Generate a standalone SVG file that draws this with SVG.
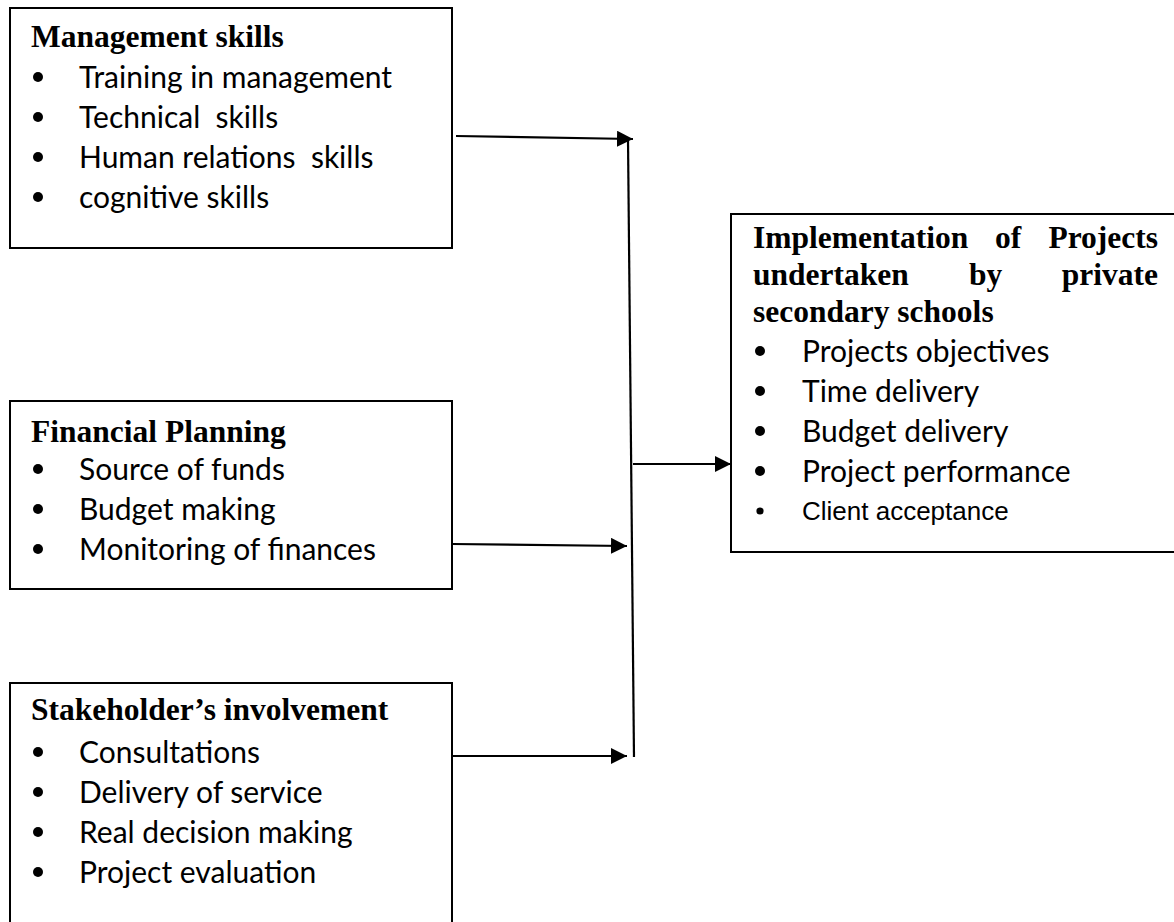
<svg xmlns="http://www.w3.org/2000/svg" width="1174" height="922" viewBox="0 0 1174 922">
  <style>
    .box { fill: #ffffff; stroke: #000000; stroke-width: 2; }
    .title { font-family: "Liberation Serif", "Times New Roman", serif; font-weight: bold; font-size: 31.5px; fill: #000000; }
    .item { font-family: Lato, "Liberation Sans", sans-serif; font-size: 30px; fill: #000000; }
    .item2 { font-family: "Liberation Sans", Arial, sans-serif; font-size: 26px; fill: #000000; }
    .wire { fill: none; stroke: #000000; stroke-width: 2.2; }
  </style>
  <defs>
    <marker id="head" markerUnits="userSpaceOnUse" markerWidth="17" markerHeight="17" refX="16" refY="8" orient="auto">
      <path d="M0,0 L16,8 L0,16 Z" fill="#000000"/>
    </marker>
    <!-- list bullets -->
    <circle id="dot" r="5" fill="#000000"/>
    <circle id="dot-small" r="3.6" fill="#000000"/>
  </defs>
  <rect width="1174" height="922" fill="#ffffff"/>

  <!-- Management skills -->
  <g id="management">
    <rect class="box" x="10" y="8" width="442" height="240"/>
    <text class="title" x="31" y="47">Management skills</text>
    <use href="#dot" x="38" y="77"/>
    <text class="item" x="79" y="88">Training in management</text>
    <use href="#dot" x="38" y="117"/>
    <text class="item" x="79" y="128" xml:space="preserve">Technical  skills</text>
    <use href="#dot" x="38" y="157"/>
    <text class="item" x="79" y="168" xml:space="preserve">Human relations  skills</text>
    <use href="#dot" x="38" y="197"/>
    <text class="item" x="79" y="208">cognitive skills</text>
  </g>

  <!-- Financial Planning -->
  <g id="financial">
    <rect class="box" x="10" y="401" width="442" height="188"/>
    <text class="title" x="31" y="442">Financial Planning</text>
    <use href="#dot" x="38" y="469"/>
    <text class="item" x="79" y="480">Source of funds</text>
    <use href="#dot" x="38" y="509"/>
    <text class="item" x="79" y="520">Budget making</text>
    <use href="#dot" x="38" y="549"/>
    <text class="item" x="79" y="560">Monitoring of finances</text>
  </g>

  <!-- Stakeholder's involvement -->
  <g id="stakeholder">
    <rect class="box" x="10" y="683" width="442" height="250"/>
    <text class="title" x="31" y="720">Stakeholder’s involvement</text>
    <use href="#dot" x="38" y="752"/>
    <text class="item" x="79" y="763">Consultations</text>
    <use href="#dot" x="38" y="792"/>
    <text class="item" x="79" y="803">Delivery of service</text>
    <use href="#dot" x="38" y="832"/>
    <text class="item" x="79" y="843">Real decision making</text>
    <use href="#dot" x="38" y="872"/>
    <text class="item" x="79" y="883">Project evaluation</text>
  </g>

  <!-- Implementation of projects (outcome) -->
  <g id="implementation">
    <rect class="box" x="731" y="214" width="470" height="338"/>
    <text class="title" x="753" y="248">Implementation</text>
    <text class="title" x="995" y="248">of</text>
    <text class="title" x="1158" y="248" text-anchor="end">Projects</text>
    <text class="title" x="753" y="285">undertaken</text>
    <text class="title" x="969" y="285">by</text>
    <text class="title" x="1158" y="285" text-anchor="end">private</text>
    <text class="title" x="753" y="322">secondary schools</text>
    <use href="#dot" x="760" y="351"/>
    <text class="item" x="802" y="362">Projects objectives</text>
    <use href="#dot" x="760" y="391"/>
    <text class="item" x="802" y="402">Time delivery</text>
    <use href="#dot" x="760" y="431"/>
    <text class="item" x="802" y="442">Budget delivery</text>
    <use href="#dot" x="760" y="471"/>
    <text class="item" x="802" y="482">Project performance</text>
    <use href="#dot-small" x="760" y="511"/>
    <text class="item2" x="802" y="520">Client acceptance</text>
  </g>

  <!-- Connectors -->
  <g id="connectors">
    <line class="wire" x1="456" y1="136" x2="633" y2="139" marker-end="url(#head)"/>
    <line class="wire" x1="628" y1="139" x2="634" y2="757"/>
    <line class="wire" x1="452" y1="544" x2="627" y2="546" marker-end="url(#head)"/>
    <line class="wire" x1="452" y1="756" x2="627" y2="756" marker-end="url(#head)"/>
    <line class="wire" x1="633" y1="464" x2="731" y2="464" marker-end="url(#head)"/>
  </g>
</svg>
